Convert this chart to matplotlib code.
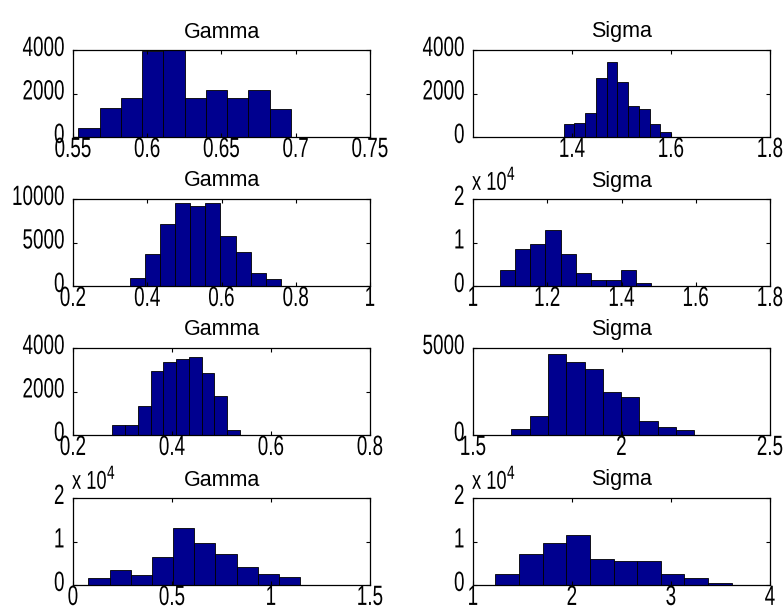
import numpy as np
import matplotlib
matplotlib.use("Agg")
import matplotlib.pyplot as plt
from matplotlib.ticker import FixedLocator, FuncFormatter
from matplotlib.transforms import ScaledTranslation, Affine2D
from matplotlib.patheffects import AbstractPathEffect

plt.rcParams["font.family"] = ["Liberation Sans", "DejaVu Sans"]

# histogram bins: (first edge, last edge) and counts
gamma1_range = (0.5536, 0.6968)
gamma1_counts = [400, 1350, 1790, 3950, 4150, 1790, 2160, 1790, 2160, 1290]
sigma1_range = (1.383, 1.600)
sigma1_counts = [590, 660, 1110, 2700, 3440, 2550, 1420, 1280, 590, 220]

gamma2_range = (0.354, 0.7595)
gamma2_counts = [960, 3730, 7080, 9540, 9150, 9540, 5770, 3890, 1500, 770]
sigma2_range = (1.0735, 1.479)
sigma2_counts = [3690, 8620, 9690, 12770, 7460, 3000, 1460, 1460, 3770, 690]

gamma3_range = (0.2797, 0.5372)
gamma3_counts = [450, 450, 1340, 2920, 3350, 3510, 3590, 2830, 1790, 220]
sigma3_range = (1.629, 2.2455)
sigma3_counts = [360, 1090, 4640, 4180, 3800, 2500, 2210, 820, 460, 270]

gamma4_range = (0.0777, 1.147)
gamma4_counts = [1540, 3460, 2230, 6380, 13150, 9690, 7150, 4150, 2620, 1920]
sigma4_range = (1.2254, 3.6135)
sigma4_counts = [2620, 7080, 9690, 11540, 6000, 5620, 5620, 2620, 1540, 390]

# axis limits / ticks per panel (row-major)
panels = [
    ("Gamma", gamma1_range, gamma1_counts, (0.55, 0.75), [0.55, 0.6, 0.65, 0.7, 0.75], (0, 4000), [0, 2000, 4000], False),
    ("Sigma", sigma1_range, sigma1_counts, (1.2, 1.8), [1.4, 1.6, 1.8], (0, 4000), [0, 2000, 4000], False),
    ("Gamma", gamma2_range, gamma2_counts, (0.2, 1.0), [0.2, 0.4, 0.6, 0.8, 1.0], (0, 10000), [0, 5000, 10000], False),
    ("Sigma", sigma2_range, sigma2_counts, (1.0, 1.8), [1.0, 1.2, 1.4, 1.6, 1.8], (0, 20000), [0, 10000, 20000], True),
    ("Gamma", gamma3_range, gamma3_counts, (0.2, 0.8), [0.2, 0.4, 0.6, 0.8], (0, 4000), [0, 2000, 4000], False),
    ("Sigma", sigma3_range, sigma3_counts, (1.5, 2.5), [1.5, 2.0, 2.5], (0, 5000), [0, 5000], False),
    ("Gamma", gamma4_range, gamma4_counts, (0.0, 1.5), [0, 0.5, 1.0, 1.5], (0, 20000), [0, 10000, 20000], True),
    ("Sigma", sigma4_range, sigma4_counts, (1.0, 4.0), [1, 2, 3, 4], (0, 20000), [0, 10000, 20000], True),
]


class Stretch(AbstractPathEffect):
    """squash/stretch a text path about an anchor (fraction of its bbox) -
    the reference text looks tall and narrow"""
    def __init__(self, sx, sy, fx, fy):
        super().__init__()
        self.sx, self.sy, self.fx, self.fy = sx, sy, fx, fy

    def draw_path(self, renderer, gc, tpath, affine, rgbFace=None):
        v = tpath.vertices
        if len(v):
            x0, y0 = v.min(0); x1, y1 = v.max(0)
            px = x0 + self.fx * (x1 - x0); py = y0 + self.fy * (y1 - y0)
            t = Affine2D().translate(-px, -py).scale(self.sx, self.sy).translate(px, py)
            affine = t + affine
        renderer.draw_path(gc, tpath, affine, rgbFace)


W, H = 784, 615
fig = plt.figure(figsize=(W / 100, H / 100), dpi=100)

col_left = [73, 473]
ax_w = 297
row_top = [50, 199, 348, 498]
ax_h = 87

FS = 17
SX, SY = 0.8, 1.18

def fmt_num(v, pos):
    return f"{v:g}"

for i, (title, rng, counts, xlim, xticks, ylim, yticks, sci) in enumerate(panels):
    r, c = divmod(i, 2)
    ax = fig.add_axes([col_left[c] / W, 1 - (row_top[r] + ax_h) / H, ax_w / W, ax_h / H])
    edges = np.linspace(rng[0], rng[1], len(counts) + 1)
    ax.bar(edges[:-1], counts, width=np.diff(edges), align="edge",
           color="#00008F", edgecolor="black", linewidth=0.6)
    ax.set_xlim(*xlim)
    ax.set_ylim(*ylim)
    ax.xaxis.set_major_locator(FixedLocator(xticks))
    ax.yaxis.set_major_locator(FixedLocator(yticks))
    ax.xaxis.set_major_formatter(FuncFormatter(fmt_num))
    if sci:
        ax.yaxis.set_major_formatter(FuncFormatter(lambda v, p: f"{v / 1e4:g}"))
        ax.text(0.0, 1.0, "x 10$^4$",
                transform=ax.transAxes + ScaledTranslation(-1 / 100, 9 / 100, fig.dpi_scale_trans),
                fontsize=15.5, va="baseline", ha="left",
                path_effects=[Stretch(0.85, 1.2, 0, 0)])
    else:
        ax.yaxis.set_major_formatter(FuncFormatter(fmt_num))
    ax.tick_params(direction="in", length=3, width=0.8, top=True, right=True,
                   labelsize=FS)
    ax.tick_params(axis="x", pad=0)
    ax.tick_params(axis="y", pad=6)
    for s in ax.spines.values():
        s.set_linewidth(0.9)
    ax.set_title(title, fontsize=15.5, pad=9)
    # MATLAB puts y tick labels a touch above the tick
    off = ScaledTranslation(0, 4 / 100, fig.dpi_scale_trans)
    for t in ax.yaxis.get_major_ticks():
        t.label1.set_transform(t.label1.get_transform() + off)
        t.label1.set_path_effects([Stretch(SX, SY, 1.0, 0.5)])
    for t in ax.xaxis.get_major_ticks():
        t.label1.set_path_effects([Stretch(SX, SY, 0.5, 1.0)])

fig.savefig("out.png", dpi=100)
